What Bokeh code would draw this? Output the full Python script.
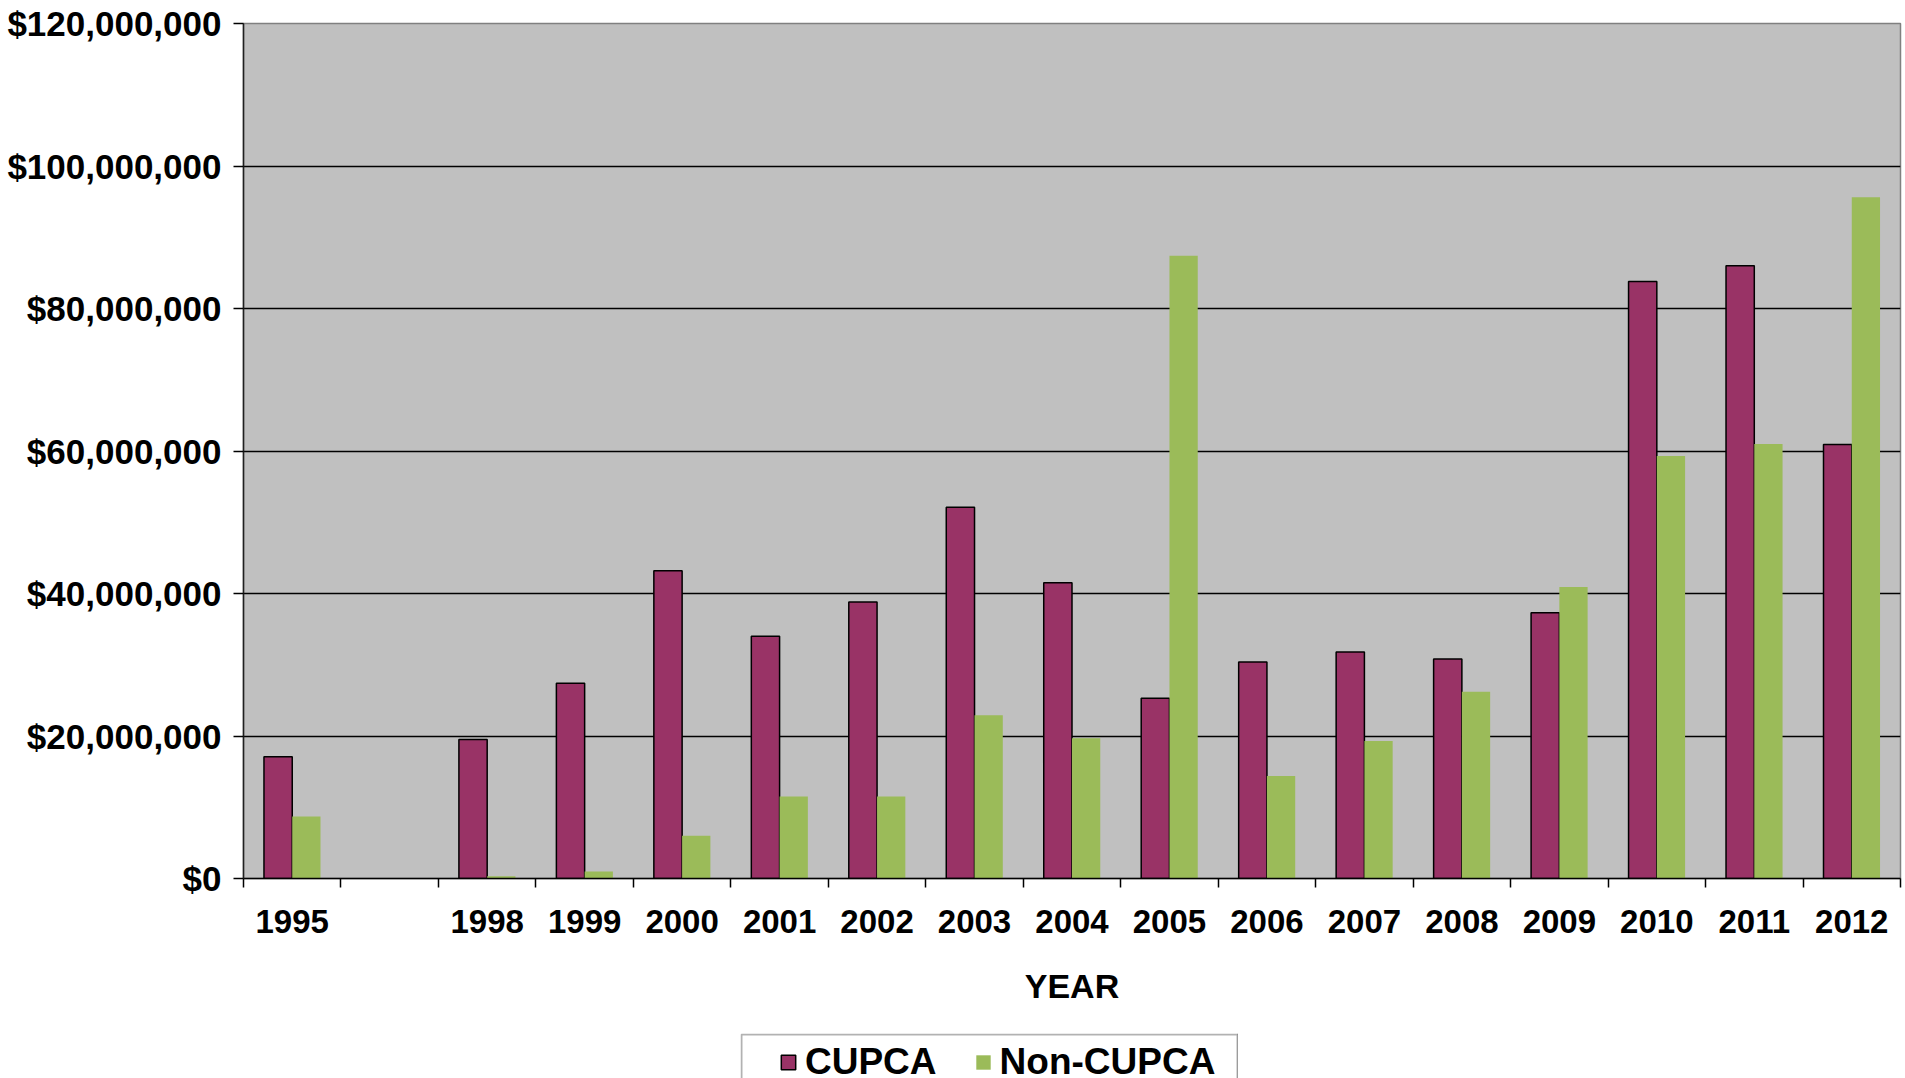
from bokeh.plotting import figure
from bokeh.models import (ColumnDataSource, Range1d, FixedTicker, NumeralTickFormatter,
                          Legend, LegendItem, BoxAnnotation, Spacer)
from bokeh.layouts import column, row
from bokeh.transform import dodge
from bokeh.embed import file_html
from bokeh.resources import INLINE

# ---- data (US dollars, millions) ----
years = ["1995", "", "1998", "1999", "2000", "2001", "2002", "2003", "2004",
         "2005", "2006", "2007", "2008", "2009", "2010", "2011", "2012"]
cupca_m = [17.1, None, 19.5, 27.4, 43.2, 34.0, 38.8, 52.1, 41.5,
           25.3, 30.4, 31.8, 30.8, 37.3, 83.8, 86.0, 60.9]
noncupca_m = [8.7, None, 0.3, 1.0, 6.0, 11.5, 11.5, 22.9, 19.7,
              87.4, 14.4, 19.3, 26.2, 40.9, 59.3, 61.0, 95.6]
y_ticks = [0, 20e6, 40e6, 60e6, 80e6, 100e6, 120e6]
series_names = ["CUPCA", "Non-CUPCA"]
colors = ["#993366", "#9BBB59"]

FONT = "Liberation Sans"
nan = float("nan")
pos = [i + 0.5 for i in range(len(years))]
src = ColumnDataSource(dict(
    x=pos,
    cupca=[v * 1e6 if v is not None else nan for v in cupca_m],
    noncupca=[v * 1e6 if v is not None else nan for v in noncupca_m],
))

p = figure(width=1905, height=1033, output_backend="svg", toolbar_location=None,
           x_range=Range1d(0, len(years)), y_range=Range1d(0, 120e6),
           min_border_left=243, min_border_right=5, min_border_top=23,
           min_border_bottom=155)
p.background_fill_color = "#C0C0C0"
p.border_fill_color = "white"
p.outline_line_color = "#808080"
p.outline_line_width = 1.5

bw = 0.29
r1 = p.vbar(x=dodge("x", -bw / 2, range=p.x_range), top="cupca", width=bw, bottom=0,
            source=src, fill_color=colors[0], line_color="black", line_width=1.5)
r2 = p.vbar(x=dodge("x", bw / 2, range=p.x_range), top="noncupca", width=bw, bottom=0,
            source=src, fill_color=colors[1], line_color=None)

# y axis
p.yaxis.ticker = FixedTicker(ticks=y_ticks)
p.yaxis.formatter = NumeralTickFormatter(format="$0,0")
p.yaxis.major_label_text_font = FONT
p.yaxis.major_label_text_font_style = "bold"
p.yaxis.major_label_text_font_size = "35px"
p.yaxis.major_label_text_color = "black"
p.yaxis.major_tick_out = 10
p.yaxis.major_tick_in = 0
p.yaxis.minor_tick_line_color = None
p.yaxis.major_label_standoff = 12
p.yaxis.axis_line_color = "#202020"
p.yaxis.axis_line_width = 1.5
p.yaxis.major_tick_line_width = 1.5

p.ygrid.ticker = FixedTicker(ticks=y_ticks[1:-1])
p.ygrid.grid_line_color = "black"
p.ygrid.grid_line_width = 1.5
p.xgrid.grid_line_color = None

# x axis
p.xaxis.ticker = FixedTicker(ticks=pos, minor_ticks=list(range(len(years) + 1)))
p.xaxis.major_label_overrides = {x: y for x, y in zip(pos, years)}
p.xaxis.major_tick_out = 0
p.xaxis.major_tick_in = 0
p.xaxis.major_tick_line_color = None
p.xaxis.minor_tick_out = 9
p.xaxis.minor_tick_in = 0
p.xaxis.minor_tick_line_color = "black"
p.xaxis.minor_tick_line_width = 1.5
p.xaxis.axis_line_color = "black"
p.xaxis.axis_line_width = 1.5
p.xaxis.major_label_text_font = FONT
p.xaxis.major_label_text_font_style = "bold"
p.xaxis.major_label_text_font_size = "33px"
p.xaxis.major_label_text_color = "black"
p.xaxis.major_label_standoff = 22
p.xaxis.axis_label = "YEAR"
p.xaxis.axis_label_text_font = FONT
p.xaxis.axis_label_text_font_style = "bold"
p.xaxis.axis_label_text_font_size = "34px"
p.xaxis.axis_label_text_color = "black"
p.xaxis.axis_label_standoff = 31

# ---- legend strip (box whose bottom is cut off by the page edge) ----
LW, LH = 498, 45
lf = figure(width=LW, height=LH, output_backend="svg", toolbar_location=None,
            x_range=Range1d(0, 1), y_range=Range1d(0, 1),
            x_axis_type=None, y_axis_type=None,
            min_border=0, min_border_left=0, min_border_right=0,
            min_border_top=0, min_border_bottom=0)
lf.outline_line_color = None
lf.background_fill_color = "white"
lf.border_fill_color = "white"
# legend swatches: one bar each, placed outside the visible range so only the swatch shows
lsrc = ColumnDataSource(dict(x=[5], top=[1]))
lg1 = lf.vbar(x="x", top="top", width=0.1, source=lsrc,
              fill_color=colors[0], line_color="black", line_width=1.5)
lg2 = lf.vbar(x="x", top="top", width=0.1, source=lsrc,
              fill_color=colors[1], line_color=None)

box = BoxAnnotation(left=1, right=LW - 1, top=1, bottom=LH + 40,
                    left_units="canvas", right_units="canvas",
                    top_units="canvas", bottom_units="canvas",
                    fill_color="white", fill_alpha=1.0,
                    line_color="black", line_width=2)
lf.add_layout(box)

legend = Legend(items=[LegendItem(label=series_names[0], renderers=[lg1]),
                       LegendItem(label=series_names[1], renderers=[lg2])],
                orientation="horizontal", location=(39, -5),
                padding=0, margin=0, spacing=37, label_standoff=8,
                glyph_width=18, glyph_height=18, label_height=40,
                label_text_font=FONT, label_text_font_style="bold",
                label_text_font_size="37px", label_text_color="black",
                border_line_color=None, background_fill_alpha=0)
lf.add_layout(legend)

layout = column(p, row(Spacer(width=740, height=LH), lf, spacing=0), spacing=0)

open("out.html", "w").write(file_html(layout, INLINE))
